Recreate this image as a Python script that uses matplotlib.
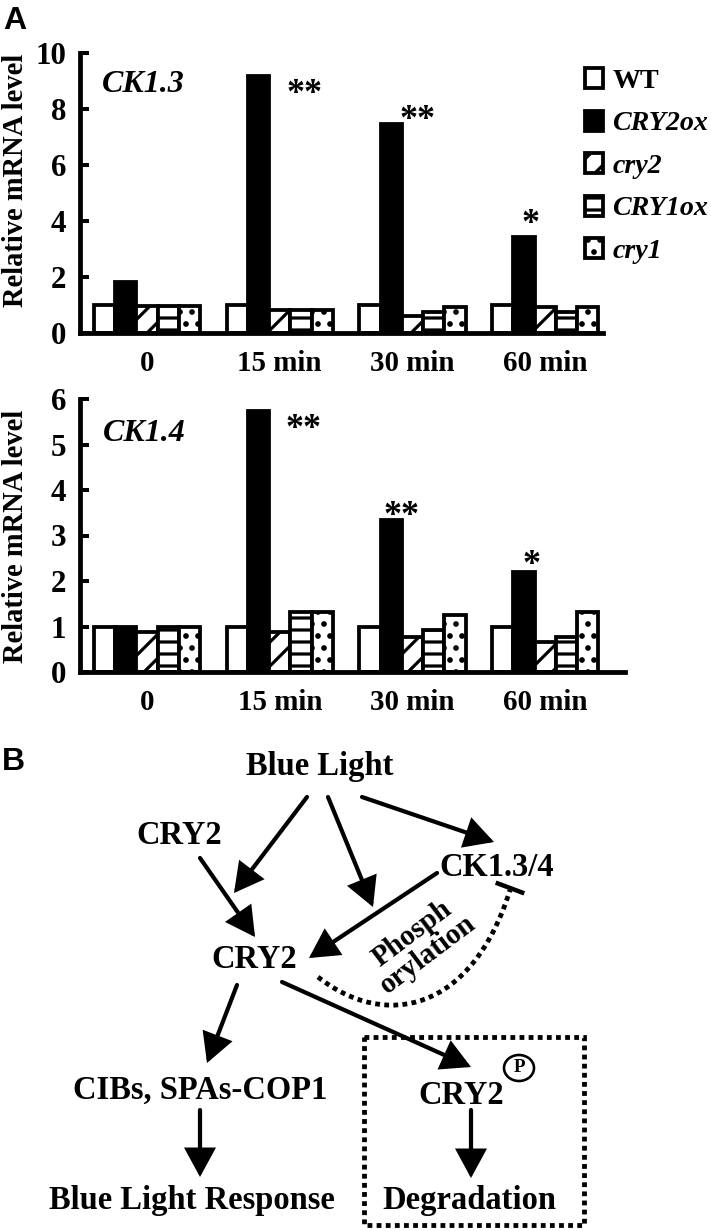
import matplotlib
matplotlib.use("Agg")
import matplotlib.pyplot as plt
import numpy as np
from matplotlib.patches import Rectangle, Ellipse, PathPatch
from matplotlib.path import Path
from matplotlib.lines import Line2D

# ---------------- data ----------------
time_points = ['0', '15 min', '30 min', '60 min']
genotypes = ['WT', 'CRY2ox', 'cry2', 'CRY1ox', 'cry1']

ck13_wt     = [1.00, 1.00, 1.00, 1.00]
ck13_cry2ox = [1.83, 9.19, 7.46, 3.42]
ck13_cry2   = [0.97, 0.82, 0.62, 0.92]
ck13_cry1ox = [0.97, 0.82, 0.74, 0.76]
ck13_cry1   = [0.97, 0.82, 0.92, 0.92]

ck14_wt     = [1.00, 1.00, 1.00, 1.00]
ck14_cry2ox = [0.98, 5.74, 3.33, 2.20]
ck14_cry2   = [0.87, 0.87, 0.78, 0.67]
ck14_cry1ox = [0.98, 1.31, 0.93, 0.78]
ck14_cry1   = [1.00, 1.31, 1.26, 1.31]

ck13_sig = ['', '**', '**', '*']
ck14_sig = ['', '**', '**', '*']
# star label anchor (x in group units, y in data units)
ck13_sig_x = [0, 1.19, 2.04, 2.886]
ck13_sig_y = [0, 8.22, 7.30, 3.58]
ck14_sig_x = [0, 1.176, 1.914, 2.894]
ck14_sig_y = [0, 5.15, 3.22, 2.16]

ck13_ticks = [0, 2, 4, 6, 8, 10]
ck14_ticks = [0, 1, 2, 3, 4, 5, 6]

# ---------------- style ----------------
W, H, DPI = 711, 1231, 72
plt.rcParams['font.family'] = ['Liberation Serif', 'DejaVu Serif']
plt.rcParams['font.weight'] = 'bold'
plt.rcParams['hatch.linewidth'] = 3.2
plt.rcParams['hatch.color'] = 'black'

styles = [
    dict(facecolor='white', hatch=None),
    dict(facecolor='black', hatch=None),
    dict(facecolor='white', hatch='/'),
    dict(facecolor='white', hatch='-'),
    dict(facecolor='white', hatch='.'),
]

fig = plt.figure(figsize=(W / DPI, H / DPI), dpi=DPI)

def fx(px):
    return px / W

def fy(py):
    return 1 - py / H

bar_w = 0.16
x = np.arange(len(time_points))


def draw_panel(rect, series, ymax, ticks, xright, gene, gene_y, sig, sigx, sigy):
    ax = fig.add_axes(rect)
    bars = []
    for j, vals in enumerate(series):
        b = ax.bar(x + (j - 2) * bar_w, vals, width=bar_w, edgecolor='black',
                   linewidth=3.8, label=genotypes[j], zorder=3, **styles[j])
        bars.append(b)
    ax.set_xlim(-0.505, xright)
    ax.set_ylim(0, ymax)
    ax.set_yticks(ticks)
    ax.set_xticks(x)
    ax.set_xticklabels(time_points)
    for s in ['top', 'right']:
        ax.spines[s].set_visible(False)
    for s in ['left', 'bottom']:
        ax.spines[s].set_linewidth(4.8)
        ax.spines[s].set_zorder(4)
    ax.tick_params(axis='y', direction='in', length=9, width=4, pad=14, labelsize=31)
    ax.tick_params(axis='x', length=0, pad=17, labelsize=29)
    for lab in ax.get_xticklabels() + ax.get_yticklabels():
        lab.set_fontweight('bold')
    ax.set_ylabel('Relative mRNA level', fontsize=28.5, fontweight='bold', va='center')
    ax.text(0.042, gene_y, gene, transform=ax.transAxes, fontsize=32,
            fontweight='bold', style='italic', ha='left', va='center')
    for k, s in enumerate(sig):
        if s:
            ax.text(sigx[k], sigy[k], s, fontsize=36, fontweight='bold',
                    ha='center', va='baseline')
    return ax, bars


ax1, bars1 = draw_panel([fx(80), fy(333), fx(603) - fx(80), fy(53) - fy(333)],
                        [ck13_wt, ck13_cry2ox, ck13_cry2, ck13_cry1ox, ck13_cry1],
                        10, ck13_ticks, 3.436, 'CK1.3', 0.886,
                        ck13_sig, ck13_sig_x, ck13_sig_y)
ax1.yaxis.set_label_coords(-0.124, 0.546)

ax2, bars2 = draw_panel([fx(80), fy(672), fx(625) - fx(80), fy(399) - fy(672)],
                        [ck14_wt, ck14_cry2ox, ck14_cry2, ck14_cry1ox, ck14_cry1],
                        6, ck14_ticks, 3.60, 'CK1.4', 0.875,
                        ck14_sig, ck14_sig_x, ck14_sig_y)
ax2.yaxis.set_label_coords(-0.119, 0.495)

leg = fig.legend(handles=[b[0] for b in bars1], labels=genotypes,
                 loc='upper left', bbox_to_anchor=(fx(585), fy(68)),
                 frameon=False, fontsize=28, handlelength=0.65,
                 handleheight=0.72, handletextpad=0.33, labelspacing=0.6,
                 borderpad=0, borderaxespad=0)
for i, t in enumerate(leg.get_texts()):
    t.set_fontweight('bold')
    if i > 0:
        t.set_style('italic')

fig.text(fx(3), fy(6), 'A', family='Liberation Sans', fontweight='bold',
         fontsize=32, ha='left', va='top')
fig.text(fx(2), fy(747), 'B', family='Liberation Sans', fontweight='bold',
         fontsize=32, ha='left', va='top')

# ---------------- panel B diagram ----------------
axb = fig.add_axes([0, 0, 1, fy(735)])
axb.set_xlim(0, W)
axb.set_ylim(H, 735)
axb.axis('off')

FS = 32.5
def lab(xc, yc, s, **kw):
    axb.text(xc, yc, s, fontsize=kw.pop('fontsize', FS), fontweight='bold',
             ha='center', va='center', **kw)

lab(320, 767, 'Blue Light')
lab(179, 836, 'CRY2')
lab(497, 868, 'CK1.3/4')
lab(254, 959, 'CRY2')
lab(200, 1090, 'CIBs, SPAs-COP1')
lab(461, 1096, 'CRY2')
lab(192, 1201, 'Blue Light Response')
lab(469, 1201, 'Degradation')
axb.text(420, 944, 'Phosph\norylation', fontsize=29, fontweight='bold',
         ha='center', va='center', rotation=37, rotation_mode='anchor',
         linespacing=0.95, multialignment='center')

def arrow(x0, y0, x1, y1, lw=4.2):
    axb.annotate('', xy=(x1, y1), xytext=(x0, y0),
                 arrowprops=dict(arrowstyle='-|>,head_length=0.46,head_width=0.25',
                                 lw=lw, color='black', shrinkA=0, shrinkB=0,
                                 mutation_scale=50, joinstyle='miter'))

arrow(307, 797, 234, 893)
arrow(328, 797, 373, 907)
arrow(362, 797, 494, 842)
arrow(200, 858, 255, 937)
arrow(437, 873, 309, 958)
arrow(237, 985, 207, 1063)
arrow(282, 982, 471, 1067)
arrow(200, 1110, 200, 1177)
arrow(471, 1110, 471, 1178)

# dotted inhibition curve
verts = [(318, 977), (385, 1030), (472, 1012), (510, 890)]
codes = [Path.MOVETO, Path.CURVE4, Path.CURVE4, Path.CURVE4]
axb.add_patch(PathPatch(Path(verts, codes), fill=False, lw=4.8,
                        linestyle=(0, (1, 0.9)), edgecolor='black'))
d = np.array([117.0, 44.0]); d /= np.linalg.norm(d)
axb.add_line(Line2D([510 - 13 * d[0], 510 + 13 * d[0]],
                    [888 - 13 * d[1], 888 + 13 * d[1]], lw=4.5, color='black'))

# phosphorylated CRY2 marker
axb.add_patch(Ellipse((519, 1068), 30, 26, fill=False, lw=2.6, edgecolor='black'))
axb.text(519, 1068, 'P', fontsize=19, fontweight='bold', ha='center', va='center')

# dotted box
axb.add_patch(Rectangle((364, 1037), 220, 188, fill=False, lw=4.8,
                        linestyle=(0, (1, 0.9)), edgecolor='black'))

fig.savefig('out.png', dpi=DPI)
